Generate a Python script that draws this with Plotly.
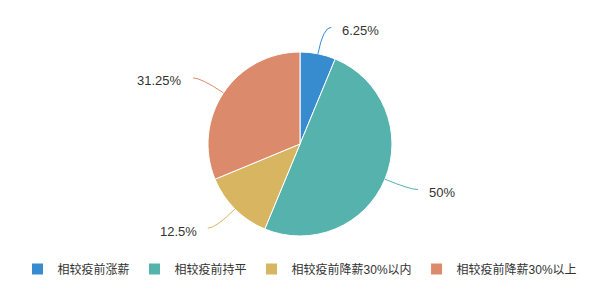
import math
import plotly.graph_objects as go

# Salary change compared with pre-pandemic levels
categories = ["相较疫前涨薪", "相较疫前持平", "相较疫前降薪30%以内", "相较疫前降薪30%以上"]
shares = [6.25, 50, 12.5, 31.25]
label_text = ["6.25%", "50%", "12.5%", "31.25%"]
colors = ["#368ccf", "#55b2ac", "#d8b661", "#dc8a6c"]

W, H = 600, 300
CX, CY, R = 300, 144, 92          # pie centre and radius in pixels
L1, L2, GAP = 27, 8, 9            # leader line: radial part, horizontal part, text gap
TEXT_DY = 3                       # label sits slightly below the line end
FONT = "Liberation Sans, Noto Sans CJK SC, sans-serif"


def px(x, y):
    """pixel position -> paper coordinates"""
    return x / W, 1 - y / H


fig = go.Figure(
    go.Pie(
        labels=categories,
        values=shares,
        sort=False,
        direction="clockwise",
        rotation=0,
        marker=dict(colors=colors, line=dict(color="white", width=1)),
        textinfo="none",
        hoverinfo="label+percent",
        domain=dict(x=[(CX - R) / W, (CX + R) / W], y=[1 - (CY + R) / H, 1 - (CY - R) / H]),
    )
)

# outside labels with curved leader lines, placed at each slice's mid angle
total = sum(shares)
cum = 0.0
shapes, annotations = [], []
for val, txt, col in zip(shares, label_text, colors):
    mid = 2 * math.pi * (cum + val / 2) / total
    cum += val
    dx, dy = math.sin(mid), -math.cos(mid)
    sx, sy = CX + R * dx, CY + R * dy
    bx, by = CX + (R + L1) * dx, CY + (R + L1) * dy
    side = 1 if dx >= 0 else -1
    ex, ey = bx + side * L2, by
    p0, p1, p2 = px(sx, sy), px(bx, by), px(ex, ey)
    shapes.append(dict(
        type="path", xref="paper", yref="paper",
        path=f"M {p0[0]},{p0[1]} Q {p1[0]},{p1[1]} {p2[0]},{p2[1]}",
        line=dict(color=col, width=1),
    ))
    tx, ty = px(ex + side * GAP, ey + TEXT_DY)
    annotations.append(dict(
        x=tx, y=ty, xref="paper", yref="paper", text=txt, showarrow=False,
        xanchor="left" if side > 0 else "right", yanchor="middle",
        font=dict(size=13, color="#333333", family=FONT),
    ))

fig.update_layout(
    width=W, height=H,
    margin=dict(l=0, r=0, t=0, b=0),
    paper_bgcolor="white",
    font=dict(family=FONT, color="#333333"),
    shapes=shapes,
    annotations=annotations,
    showlegend=True,
    legend=dict(
        orientation="h", x=0.5, xanchor="center", y=1 - 269 / H, yanchor="middle",
        font=dict(size=12, color="#333333", family=FONT),
        itemclick=False, itemdoubleclick=False,
    ),
)

fig.write_html("out.html")
